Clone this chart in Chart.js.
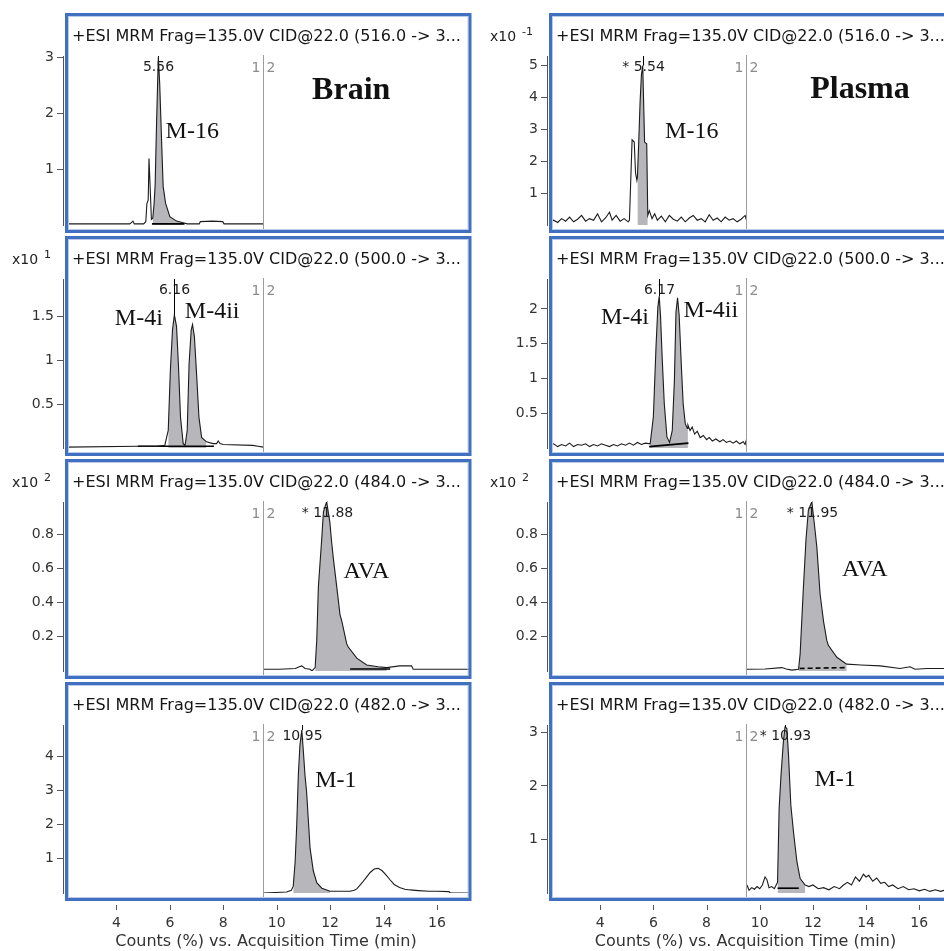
<!DOCTYPE html>
<html lang="en">
<head>
<meta charset="UTF-8">
<title>MRM chromatograms - Brain vs Plasma</title>
<script src="https://cdn.jsdelivr.net/npm/chart.js"></script>
<style>
  body { margin: 0; background: #fff; }
  #figure { position: relative; width: 944px; height: 951px; overflow: hidden; background: #fff; }
  #figure canvas { position: absolute; }
</style>
</head>
<body>
<div id="figure"></div>
<script>
// ---- data (time in min, counts in the panel's own x10^n units) ----
const timeTicks = [4, 6, 8, 10, 12, 14, 16];
const segmentSplit = 9.5;

const brainM16Time = [2.1, 4.5, 4.58, 4.62, 4.67, 5.02, 5.1, 5.14, 5.19, 5.22, 5.26, 5.31, 5.36, 5.41, 5.45, 5.5, 5.54, 5.57, 5.62, 5.69, 5.75, 5.84, 6.0, 6.25, 6.5, 6.65, 7.1, 7.14, 7.6, 7.98, 8.03, 9.5];
const brainM16Counts = [0.02, 0.02, 0.05, 0.07, 0.02, 0.02, 0.06, 0.38, 0.45, 1.19, 0.71, 0.1, 0.12, 0.38, 0.72, 1.76, 2.5, 3.0, 2.53, 1.52, 0.69, 0.39, 0.15, 0.07, 0.04, 0.02, 0.02, 0.06, 0.07, 0.06, 0.02, 0.02];
const brainM16Ticks = [1, 2, 3];

const plasmaM16Time = [2.1, 2.25, 2.4, 2.55, 2.7, 2.85, 3.0, 3.15, 3.3, 3.45, 3.6, 3.75, 3.9, 4.05, 4.2, 4.35, 4.45, 4.6, 4.75, 4.9, 5.05, 5.1, 5.15, 5.2, 5.28, 5.33, 5.38, 5.4, 5.45, 5.5, 5.55, 5.6, 5.63, 5.67, 5.75, 5.79, 5.85, 5.95, 6.05, 6.15, 6.3, 6.45, 6.6, 6.75, 6.9, 7.05, 7.2, 7.35, 7.5, 7.65, 7.8, 7.95, 8.1, 8.25, 8.4, 8.55, 8.7, 8.85, 9.0, 9.15, 9.3, 9.45, 9.5];
const plasmaM16Counts = [0.1, 0.15, 0.08, 0.2, 0.12, 0.25, 0.1, 0.18, 0.3, 0.12, 0.2, 0.15, 0.35, 0.1, 0.22, 0.4, 0.15, 0.3, 0.12, 0.2, 0.1, 0.15, 1.41, 2.67, 2.6, 1.63, 1.4, 1.5, 2.6, 3.84, 4.7, 5.0, 4.0, 2.6, 2.55, 0.3, 0.45, 0.2, 0.35, 0.15, 0.28, 0.1, 0.3, 0.18, 0.12, 0.25, 0.1, 0.22, 0.3, 0.15, 0.2, 0.1, 0.32, 0.15, 0.22, 0.1, 0.25, 0.15, 0.2, 0.1, 0.18, 0.3, 0.15];
const plasmaM16Ticks = [1, 2, 3, 4, 5];

const brainM4Time = [2.1, 4.8, 5.5, 5.81, 5.94, 6.02, 6.1, 6.17, 6.25, 6.32, 6.4, 6.5, 6.57, 6.65, 6.72, 6.8, 6.85, 6.92, 7.0, 7.09, 7.19, 7.37, 7.62, 7.75, 7.81, 7.88, 8.0, 9.1, 9.3, 9.5];
const brainM4Counts = [0.01, 0.02, 0.02, 0.03, 0.2, 0.89, 1.35, 1.52, 1.39, 0.96, 0.35, 0.05, 0.03, 0.2, 0.96, 1.35, 1.41, 1.27, 0.85, 0.35, 0.12, 0.07, 0.05, 0.05, 0.08, 0.05, 0.04, 0.03, 0.02, 0.01];
const brainM4Ticks = [0.5, 1, 1.5];

const plasmaM4Time = [2.1, 2.25, 2.4, 2.55, 2.7, 2.85, 3.0, 3.15, 3.3, 3.45, 3.6, 3.75, 3.9, 4.05, 4.2, 4.35, 4.5, 4.65, 4.8, 4.95, 5.1, 5.25, 5.4, 5.55, 5.7, 5.88, 6.0, 6.1, 6.17, 6.22, 6.27, 6.33, 6.41, 6.51, 6.61, 6.71, 6.79, 6.85, 6.91, 6.97, 7.05, 7.12, 7.2, 7.28, 7.3, 7.38, 7.46, 7.55, 7.65, 7.76, 7.88, 8.0, 8.1, 8.22, 8.35, 8.5, 8.62, 8.75, 8.88, 9.0, 9.12, 9.25, 9.38, 9.45, 9.5];
const plasmaM4Counts = [0.03, 0.06, 0.02, 0.05, 0.03, 0.07, 0.02, 0.05, 0.04, 0.06, 0.02, 0.05, 0.03, 0.06, 0.04, 0.02, 0.05, 0.03, 0.06, 0.04, 0.07, 0.04, 0.08, 0.05, 0.07, 0.06, 0.45, 1.46, 2.03, 2.18, 1.89, 1.31, 0.64, 0.16, 0.08, 0.25, 0.96, 1.95, 2.16, 1.91, 1.2, 0.64, 0.35, 0.28, 0.33, 0.25, 0.3, 0.2, 0.24, 0.15, 0.18, 0.12, 0.15, 0.1, 0.13, 0.09, 0.12, 0.08, 0.1, 0.07, 0.1, 0.06, 0.09, 0.05, 0.12];
const plasmaM4Ticks = [0.5, 1, 1.5, 2];

const brainAvaTime = [9.5, 10.1, 10.7, 10.85, 10.94, 11.06, 11.25, 11.32, 11.44, 11.5, 11.56, 11.69, 11.75, 11.87, 11.99, 12.06, 12.12, 12.25, 12.37, 12.44, 12.62, 12.68, 13.0, 13.37, 13.8, 14.12, 14.6, 15.05, 15.11, 16.0, 17.2];
const brainAvaCounts = [0.01, 0.01, 0.015, 0.025, 0.03, 0.015, 0.01, 0.0, 0.02, 0.18, 0.49, 0.78, 0.93, 0.99, 0.87, 0.75, 0.66, 0.49, 0.33, 0.29, 0.16, 0.14, 0.075, 0.035, 0.025, 0.02, 0.03, 0.03, 0.01, 0.01, 0.01];

const plasmaAvaTime = [9.52, 10.2, 10.83, 11.0, 11.21, 11.46, 11.52, 11.64, 11.74, 11.83, 11.96, 12.09, 12.15, 12.27, 12.4, 12.52, 12.58, 12.9, 13.27, 13.8, 14.53, 15.28, 15.65, 15.84, 16.3, 16.93];
const plasmaAvaCounts = [0.01, 0.012, 0.02, 0.012, 0.005, 0.01, 0.1, 0.48, 0.77, 0.94, 0.99, 0.81, 0.72, 0.45, 0.29, 0.18, 0.15, 0.08, 0.04, 0.035, 0.03, 0.015, 0.025, 0.01, 0.015, 0.015];
const avaTicks = [0.2, 0.4, 0.6, 0.8];

const brainM1Time = [9.5, 10.37, 10.55, 10.62, 10.69, 10.75, 10.81, 10.87, 10.94, 11.0, 11.06, 11.12, 11.19, 11.25, 11.37, 11.5, 11.69, 12.0, 12.75, 12.9, 13.0, 13.2, 13.35, 13.5, 13.65, 13.8, 13.95, 14.1, 14.25, 14.4, 14.6, 14.8, 15.0, 15.3, 15.7, 16.0, 16.45, 16.5, 17.2];
const brainM1Counts = [0.0, 0.03, 0.08, 0.2, 0.9, 1.97, 3.44, 4.32, 4.76, 4.13, 3.44, 2.95, 2.07, 1.31, 0.65, 0.3, 0.14, 0.05, 0.05, 0.08, 0.12, 0.3, 0.45, 0.6, 0.7, 0.72, 0.65, 0.52, 0.38, 0.25, 0.16, 0.11, 0.09, 0.07, 0.05, 0.05, 0.04, 0.0, 0.0];
const brainM1Ticks = [1, 2, 3, 4];

const plasmaM1Time = [9.52, 9.6, 9.7, 9.8, 9.9, 10.0, 10.1, 10.2, 10.27, 10.35, 10.45, 10.55, 10.67, 10.73, 10.8, 10.89, 10.95, 11.02, 11.08, 11.17, 11.27, 11.4, 11.52, 11.71, 11.85, 12.0, 12.2, 12.4, 12.6, 12.8, 13.0, 13.15, 13.3, 13.45, 13.6, 13.75, 13.9, 14.0, 14.1, 14.25, 14.4, 14.55, 14.7, 14.85, 15.0, 15.2, 15.4, 15.6, 15.8, 16.0, 16.2, 16.4, 16.6, 16.8, 16.93];
const plasmaM1Counts = [0.15, 0.05, 0.1, 0.07, 0.12, 0.08, 0.15, 0.3, 0.25, 0.1, 0.12, 0.08, 0.2, 1.58, 2.2, 2.83, 3.1, 3.08, 2.6, 1.64, 1.14, 0.58, 0.27, 0.15, 0.12, 0.15, 0.08, 0.1, 0.06, 0.12, 0.08, 0.15, 0.2, 0.15, 0.3, 0.22, 0.35, 0.3, 0.33, 0.22, 0.28, 0.18, 0.2, 0.12, 0.15, 0.08, 0.12, 0.06, 0.08, 0.04, 0.07, 0.03, 0.06, 0.03, 0.05];
const plasmaM1Ticks = [1, 2, 3];

// ---- layout ----
const columns = [
  { left: 0, width: 480, plotLeft: 63, plotRight: 469, xMin: 2.0, xMax: 17.2, expX: 12, borderOver: 1 },
  { left: 480, width: 464, plotLeft: 67, plotRight: 464, xMin: 2.0, xMax: 16.93, expX: 10, borderOver: 20 }
];
const rows = [
  { top: 0, height: 234, plotTop: 56, plotBottom: 225 },
  { top: 234, height: 223, plotTop: 279, plotBottom: 448 },
  { top: 457, height: 223, plotTop: 502, plotBottom: 671 },
  { top: 680, height: 271, plotTop: 725, plotBottom: 893 }
];

const panels = [
  { row: 0, col: 0, time: brainM16Time, counts: brainM16Counts, yMax: 3.02, yTicks: brainM16Ticks, exponent: null,
    precursor: '516.0', rtLabel: '5.56', peak: [5.33, 6.55], base: [[5.33, 0.02], [6.55, 0.02]],
    labels: [{ text: 'M-16', t: 5.84, v: 1.67 }, { text: 'Brain', t: 12.79, v: 2.40, bold: true }] },
  { row: 0, col: 1, time: plasmaM16Time, counts: plasmaM16Counts, yMax: 5.3, yTicks: plasmaM16Ticks, exponent: '-1',
    precursor: '516.0', rtLabel: '* 5.54', peak: [5.39, 5.8], base: null,
    labels: [{ text: 'M-16', t: 6.44, v: 2.94 }, { text: 'Plasma', t: 13.77, v: 4.23, bold: true }] },
  { row: 1, col: 0, time: brainM4Time, counts: brainM4Counts, yMax: 1.93, yTicks: brainM4Ticks, exponent: '1',
    precursor: '500.0', rtLabel: '6.16', peak: [5.85, 7.6], base: [[4.8, 0.02], [7.65, 0.02]],
    labels: [{ text: 'M-4i', t: 3.94, v: 1.48 }, { text: 'M-4ii', t: 6.56, v: 1.56 }] },
  { row: 1, col: 1, time: plasmaM4Time, counts: plasmaM4Counts, yMax: 2.43, yTicks: plasmaM4Ticks, exponent: null,
    precursor: '500.0', rtLabel: '6.17', peak: [5.86, 7.3], base: [[5.84, 0.02], [7.32, 0.07]],
    labels: [{ text: 'M-4i', t: 4.03, v: 1.87 }, { text: 'M-4ii', t: 7.13, v: 1.97 }] },
  { row: 2, col: 0, time: brainAvaTime, counts: brainAvaCounts, yMax: 0.988, yTicks: avaTicks, exponent: '2',
    precursor: '484.0', rtLabel: '* 11.88', peak: [11.42, 14.2], base: [[12.75, 0.012], [14.25, 0.012]],
    labels: [{ text: 'AVA', t: 12.5, v: 0.583 }] },
  { row: 2, col: 1, time: plasmaAvaTime, counts: plasmaAvaCounts, yMax: 0.988, yTicks: avaTicks, exponent: '2',
    precursor: '484.0', rtLabel: '* 11.95', peak: [11.46, 13.3], base: [[11.5, 0.015], [13.3, 0.02]], dashedBase: true,
    labels: [{ text: 'AVA', t: 13.09, v: 0.593 }] },
  { row: 3, col: 0, time: brainM1Time, counts: brainM1Counts, yMax: 4.91, yTicks: brainM1Ticks, exponent: null,
    precursor: '482.0', rtLabel: '10.95', peak: [10.6, 12.05], base: null,
    labels: [{ text: 'M-1', t: 11.44, v: 3.29 }] },
  { row: 3, col: 1, time: plasmaM1Time, counts: plasmaM1Counts, yMax: 3.14, yTicks: plasmaM1Ticks, exponent: null,
    precursor: '482.0', rtLabel: '* 10.93', peak: [10.65, 11.72], base: [[10.67, 0.09], [11.47, 0.09]],
    labels: [{ text: 'M-1', t: 12.06, v: 2.11 }] }
];

const SANS = '"DejaVu Sans", Verdana, sans-serif';
const SERIF = '"Liberation Serif", "Times New Roman", serif';
Chart.defaults.font.family = SANS;

function findApex(p) {
  let best = 0;
  p.counts.forEach((v, i) => { if (v > p.counts[best]) best = i; });
  return { t: p.time[best], v: p.counts[best] };
}

function decorPlugin(p, colG, isBottom) {
  return {
    id: 'panelDecor',
    afterDatasetsDraw(chart) {
      const { ctx, chartArea: a, scales: { x, y } } = chart;
      ctx.save();

      // segment divider + "1|2"
      const dx = Math.round(x.getPixelForValue(segmentSplit)) + 0.5;
      ctx.strokeStyle = '#9c9c9c';
      ctx.lineWidth = 1;
      ctx.beginPath(); ctx.moveTo(dx, a.top - 1); ctx.lineTo(dx, a.bottom + 6); ctx.stroke();
      ctx.font = '14px ' + SANS;
      ctx.fillStyle = '#8c8c8c';
      ctx.textBaseline = 'middle';
      ctx.textAlign = 'right'; ctx.fillText('1', dx - 3, a.top + 12);
      ctx.textAlign = 'left'; ctx.fillText('2', dx + 3, a.top + 12);

      // retention time label and apex marker
      const apex = findApex(p);
      const ax = Math.round(x.getPixelForValue(apex.t)) + 0.5;
      ctx.fillStyle = '#1e1e1e';
      ctx.textAlign = 'center';
      ctx.fillText(p.rtLabel, ax, a.top + 11);
      ctx.strokeStyle = '#000';
      ctx.beginPath(); ctx.moveTo(ax, y.getPixelForValue(apex.v)); ctx.lineTo(ax, a.top); ctx.stroke();

      // compound labels
      ctx.fillStyle = '#111';
      p.labels.forEach(l => {
        ctx.font = (l.bold ? 'bold 32px ' : '24px ') + SERIF;
        ctx.textAlign = l.bold ? 'center' : 'left';
        ctx.fillText(l.text, x.getPixelForValue(l.t), y.getPixelForValue(l.v));
      });

      // header line
      ctx.font = '16px ' + SANS;
      ctx.textAlign = 'left';
      ctx.fillStyle = '#151515';
      ctx.fillText('+ESI MRM Frag=135.0V CID@22.0 (' + p.precursor + ' -> 3...', a.left + 9, a.top - 19);

      // y multiplier
      if (p.exponent) {
        ctx.font = '14px ' + SANS;
        ctx.fillStyle = '#222';
        ctx.fillText('x10', colG.expX, a.top - 19);
        const w = ctx.measureText('x10').width;
        ctx.font = '11px ' + SANS;
        ctx.fillText(p.exponent, colG.expX + w + 6, a.top - 24);
      }

      // time-axis tick marks below the frame
      if (isBottom) {
        ctx.strokeStyle = '#555';
        x.ticks.forEach(tk => {
          const tx = Math.round(x.getPixelForValue(tk.value)) + 0.5;
          ctx.beginPath(); ctx.moveTo(tx, a.bottom + 12); ctx.lineTo(tx, a.bottom + 17); ctx.stroke();
        });
      }

      // panel frame
      const fl = a.left + 3.5, ft = a.top - 41.5;
      const fr = a.right + colG.borderOver, fb = a.bottom + 6.5;
      ctx.strokeStyle = '#b9cbeb';
      ctx.lineWidth = 1;
      ctx.strokeRect(fl + 2, ft + 2, fr - fl - 4, fb - ft - 4);
      ctx.strokeStyle = '#4170c0';
      ctx.lineWidth = 3;
      ctx.strokeRect(fl, ft, fr - fl, fb - ft);

      ctx.restore();
    }
  };
}

const figure = document.getElementById('figure');

panels.forEach(p => {
  const colG = columns[p.col];
  const rowG = rows[p.row];
  const isBottom = p.row === rows.length - 1;

  const canvas = document.createElement('canvas');
  canvas.width = colG.width;
  canvas.height = rowG.height;
  canvas.style.left = colG.left + 'px';
  canvas.style.top = rowG.top + 'px';
  canvas.style.width = colG.width + 'px';
  canvas.style.height = rowG.height + 'px';
  figure.appendChild(canvas);

  const trace = p.time.map((t, i) => ({ x: t, y: p.counts[i] }));
  const peakArea = trace.filter(pt => pt.x >= p.peak[0] && pt.x <= p.peak[1]);

  const datasets = [
    { label: 'trace', data: trace, borderColor: '#1c1c1c', borderWidth: 1.1, pointRadius: 0, fill: false, order: 1 },
    { label: 'peak', data: peakArea, borderWidth: 0, borderColor: 'rgba(0,0,0,0)', backgroundColor: '#b7b7bb',
      pointRadius: 0, fill: 'origin', order: 3 }
  ];
  if (p.base) {
    datasets.push({ label: 'baseline', data: p.base.map(b => ({ x: b[0], y: b[1] })), borderColor: '#000',
      borderWidth: 1.6, borderDash: p.dashedBase ? [5, 3] : [], pointRadius: 0, fill: false, order: 2 });
  }

  new Chart(canvas, {
    type: 'line',
    data: { datasets },
    options: {
      responsive: false,
      animation: false,
      devicePixelRatio: 1,
      layout: {
        padding: {
          top: rowG.plotTop - rowG.top,
          left: 0,
          right: colG.width - colG.plotRight,
          bottom: isBottom ? 0 : (rowG.top + rowG.height) - rowG.plotBottom
        }
      },
      plugins: { legend: { display: false }, tooltip: { enabled: false } },
      scales: {
        x: {
          type: 'linear',
          min: colG.xMin,
          max: colG.xMax,
          display: isBottom,
          afterBuildTicks: s => { s.ticks = timeTicks.map(v => ({ value: v })); },
          afterFit: s => {
            if (isBottom) { s.height = (rowG.top + rowG.height) - rowG.plotBottom; }
            s.paddingLeft = 0; s.paddingRight = 0;
          },
          border: { display: false },
          grid: { display: false, drawTicks: false },
          ticks: { font: { size: 14 }, color: '#333', padding: 22, maxRotation: 0, autoSkip: false },
          title: {
            display: true,
            text: 'Counts (%) vs. Acquisition Time (min)',
            font: { size: 16 },
            color: '#333',
            padding: { top: 0, bottom: 0 }
          }
        },
        y: {
          type: 'linear',
          min: 0,
          max: p.yMax,
          afterBuildTicks: s => { s.ticks = p.yTicks.map(v => ({ value: v })); },
          afterFit: s => { s.width = colG.plotLeft; s.paddingTop = 0; s.paddingBottom = 0; },
          border: { display: true, color: '#555', width: 1 },
          grid: { display: true, drawOnChartArea: false, drawTicks: true, tickLength: 6, color: '#555' },
          ticks: { font: { size: 14 }, color: '#333', padding: 3, autoSkip: false, callback: v => String(v) }
        }
      }
    },
    plugins: [decorPlugin(p, colG, isBottom)]
  });
});
</script>
</body>
</html>
